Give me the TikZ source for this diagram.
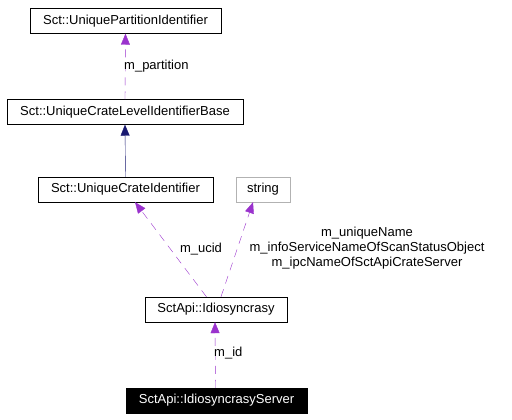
\documentclass[tikz,border=0pt]{standalone}
\usepackage{fontspec}
\setmainfont{Liberation Sans}
\usetikzlibrary{arrows.meta}
\definecolor{usecolor}{HTML}{9A32CD}
\definecolor{inhcolor}{HTML}{191970}
\tikzset{
	classbox/.style={shape=rectangle, draw=black, inner sep=0pt, minimum height=25pt, font=\fontsize{13}{15}\selectfont},
	usesarrow/.style={draw=usecolor, dash pattern=on 8pt off 6pt, -{Triangle[length=11pt,width=9pt]}},
	inheritarrow/.style={draw=inhcolor, -{Triangle[length=11pt,width=9pt]}},
	edgelabel/.style={font=\fontsize{13}{15}\selectfont, inner sep=0pt}
}
\begin{document}
\begin{tikzpicture}[x=1pt, y=-1pt]
	\useasboundingbox (0,0) rectangle (512,420);

	\node[classbox, minimum width=191pt] (partition) at (125.5,21)  {Sct::UniquePartitionIdentifier};
	\node[classbox, minimum width=236pt] (base)      at (125,112)   {Sct::UniqueCrateLevelIdentifierBase};
	\node[classbox, minimum width=175pt] (crate)     at (125.5,189.5) {Sct::UniqueCrateIdentifier};
	\node[classbox, minimum width=54pt, draw=gray!60] (string) at (263,189.5) {string};
	\node[classbox, minimum width=142pt] (idio)      at (216,309.5) {SctApi::Idiosyncrasy};
	\node[classbox, minimum width=181pt, fill=black, text=white] (server) at (216.5,400.5) {SctApi::IdiosyncrasyServer};

	\path (base.north) edge [usesarrow] (partition.south);
	\path (crate.north) edge [inheritarrow] (base.south);
	\path (idio) edge [usesarrow] (crate);
	\path ([xshift=5pt]idio.north) edge [usesarrow] ([xshift=-10pt]string.south);
	\path ([xshift=-1pt]server.north) edge [usesarrow] ([xshift=-1pt]idio.south);

	\node[edgelabel, anchor=west] (lpartition) at (124,66) {m\_partition};
	\node[edgelabel] (lucid) at (201,249) {m\_ucid};
	\node[edgelabel, align=center] (lstring) at (367,248) {m\_uniqueName\\m\_infoServiceNameOfScanStatusObject\\m\_ipcNameOfSctApiCrateServer};
	\node[edgelabel, anchor=west] (lid) at (214,353) {m\_id};
\end{tikzpicture}
\end{document}
